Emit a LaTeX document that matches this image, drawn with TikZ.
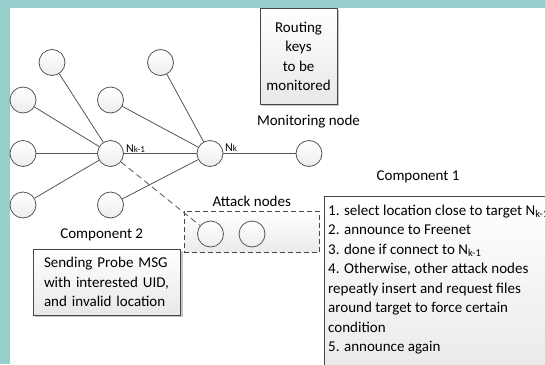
\documentclass[tikz,border=0pt]{standalone}
\usepackage{fontspec}
\setmainfont{Carlito}
\usetikzlibrary{shadows}
\definecolor{tealbg}{RGB}{151,206,204}
\definecolor{edgec}{RGB}{85,85,85}
\definecolor{boxc}{RGB}{70,70,70}
\begin{document}
\begin{tikzpicture}[x=1pt,y=-1pt,
  nd/.style={circle,minimum size=26pt,inner sep=0pt,draw=edgec,line width=0.8pt,top color=white,bottom color=gray!14},
  ln/.style={draw=edgec,line width=0.8pt},
  shbox/.style={draw=boxc,line width=0.8pt,top color=white,bottom color=gray!18,
    drop shadow={shadow xshift=2pt,shadow yshift=-2pt,fill=gray,opacity=0.45}},
  txt/.style={font=\fontsize{15}{19.5}\selectfont,inner sep=0pt},
  nlbl/.style={font=\fontsize{12}{14}\selectfont,inner sep=0pt,anchor=base west},
  ]
\useasboundingbox (0,0) rectangle (545,364);
\clip (0,0) rectangle (545,364);
\fill[tealbg] (0,0) rectangle (545,364);
\fill[white] (10,8) rectangle (545,364);

% Routing box
\node[shbox,txt,minimum width=77.3pt,minimum height=95.7pt,align=center] (rk) at (298.6,56.2)
  {Routing\\keys\\to be\\monitored};

% graph nodes
\node[nd] (t1) at (52,62.5) {};
\node[nd] (l2) at (23,100) {};
\node[nd] (l3) at (23,153.5) {};
\node[nd] (l4) at (23,205) {};
\node[nd] (nk1) at (110.5,153.5) {};
\node[nd] (m2) at (110.5,100) {};
\node[nd] (t2) at (160.5,62.5) {};
\node[nd] (nk) at (210,153.5) {};
\node[nd] (b2) at (110.5,205) {};
\node[nd] (mon) at (309,153.5) {};

\draw[ln] (t1) -- (nk1);
\draw[ln] (l2) -- (nk1);
\draw[ln] (l3) -- (nk1);
\draw[ln] (l4) -- (nk1);
\draw[ln] (nk1) -- (nk);
\draw[ln] (m2) -- (nk);
\draw[ln] (t2) -- (nk);
\draw[ln] (b2) -- (nk);
\draw[ln] (nk) -- (mon);

\node[nlbl] (lk1) at (126,152) {N{\fontsize{9}{10}\selectfont k-1}};
\node[nlbl] (lk) at (225,151) {N{\fontsize{9}{10}\selectfont k}};

% labels
\node[txt] (monl) at (308.5,121.7) {Monitoring node};
\node[txt] (c1l) at (418,176.7) {Component 1};
\node[txt] (atl) at (251.7,201.7) {Attack nodes};
\node[txt] (c2l) at (101.7,234.5) {Component 2};

% attack box
\node[draw=boxc,line width=0.8pt,dashed,dash pattern=on 5pt off 3pt,top color=white,bottom color=gray!16,
  minimum width=135.3pt,minimum height=41.3pt,inner sep=0pt] (atk) at (251.65,231.65) {};
\node[nd] (a1) at (210.5,234) {};
\node[nd] (a2) at (252,234) {};
\draw[ln,dash pattern=on 6pt off 4pt] (nk1) -- (a1);

% Component 2 box
\node[shbox,txt,minimum width=147.4pt,minimum height=66pt,text width=126pt,inner xsep=10.7pt,align=left] (c2) at (107,282)
  {Sending Probe MSG\\with interested UID,\\and invalid location};

% Component 1 box
\node[shbox,minimum width=240pt,minimum height=190pt,anchor=north west,inner sep=0pt] (c1) at (324,195.5) {};
\foreach \t [count=\i from 0] in {
  {1. select location close to target N\textsubscript{k-1}},
  {2. announce to Freenet},
  {3. done if connect to N\textsubscript{k-1}},
  {4. Otherwise, other attack nodes},
  {repeatly insert and request files},
  {around target to force certain},
  {condition},
  {5. announce again}}
  \node[txt,anchor=base west] (c1t\i) at (328,215.2+19.5*\i) {\t};
\end{tikzpicture}
\end{document}
